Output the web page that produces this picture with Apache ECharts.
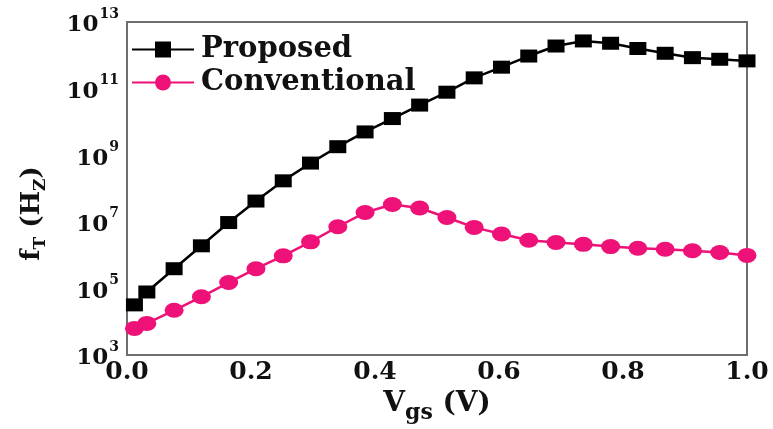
<!DOCTYPE html>
<html>
<head>
<meta charset="utf-8">
<script src="https://cdn.jsdelivr.net/npm/echarts@6/dist/echarts.min.js"></script>
<style>
html,body{margin:0;padding:0;background:#fff;}
#chart{width:773px;height:429px;}
</style>
</head>
<body>
<div id="chart"></div>
<script>
// Gate voltage (V)
var vgs = [0.012, 0.032, 0.076, 0.12, 0.164, 0.208, 0.252, 0.296, 0.34, 0.384, 0.428, 0.472,
           0.516, 0.56, 0.604, 0.648, 0.692, 0.736, 0.78, 0.824, 0.868, 0.912, 0.956, 1.0];
// fT (Hz) - Proposed
var proposed = [3.2e4, 7.8e4, 3.9e5, 1.9e6, 9.5e6, 4.2e7, 1.7e8, 5.8e8, 1.8e9, 5.0e9, 1.26e10, 3.2e10,
                7.8e10, 2.1e11, 4.4e11, 9.5e11, 1.9e12, 2.7e12, 2.3e12, 1.6e12, 1.15e12, 8.5e11, 7.6e11, 6.8e11];
// fT (Hz) - Conventional
var conventional = [6.3e3, 8.9e3, 2.2e4, 5.6e4, 1.5e5, 3.9e5, 9.5e5, 2.5e6, 7.1e6, 1.9e7, 3.3e7, 2.6e7,
                    1.35e7, 6.8e6, 4.3e6, 2.8e6, 2.4e6, 2.1e6, 1.8e6, 1.6e6, 1.5e6, 1.35e6, 1.2e6, 9.8e5];
var seriesNames = ['Proposed', 'Conventional'];
var xTicks = ['0.0', '0.2', '0.4', '0.6', '0.8', '1.0'];
var yTickExponents = ['3', '5', '7', '9', '11', '13'];

var FONT = 'DejaVu Serif';
function pairs(xs, ys) { return xs.map(function (x, i) { return [x, ys[i]]; }); }

var chart = echarts.init(document.getElementById('chart'));
chart.setOption({
  animation: false,
  backgroundColor: '#fff',
  grid: {left: 127, right: 26, top: 22, bottom: 70, show: true, borderColor: '#6e6e6e', borderWidth: 2},
  legend: {
    data: seriesNames,
    orient: 'vertical',
    left: 126, top: 30,
    itemWidth: 62, itemHeight: 20,
    itemGap: 4,
    textStyle: {fontFamily: FONT, fontWeight: 'bold', fontSize: 29, color: '#111', padding: [0, 0, 0, 2]}
  },
  xAxis: {
    type: 'value', min: 0, max: 1, interval: 0.2,
    axisLine: {show: true, lineStyle: {color: '#6e6e6e', width: 2}},
    axisTick: {show: false},
    splitLine: {show: false},
    axisLabel: {
      margin: 5,
      fontFamily: FONT, fontWeight: 'bold', fontSize: 25, color: '#111',
      formatter: function (v) { return xTicks[Math.round(v / 0.2)]; }
    },
    name: '{v|V}{s|gs}{v| (V)}',
    nameLocation: 'middle', nameGap: 35,
    nameTextStyle: {
      rich: {
        v: {fontFamily: FONT, fontWeight: 'bold', fontSize: 28, color: '#111', lineHeight: 32, verticalAlign: 'top'},
        s: {fontFamily: FONT, fontWeight: 'bold', fontSize: 22, color: '#111', lineHeight: 32, verticalAlign: 'top', padding: [12, 0, 0, 0]}
      }
    }
  },
  yAxis: {
    type: 'log', logBase: 10, min: 1e3, max: 1e13, interval: 2,
    axisLine: {show: true, lineStyle: {color: '#6e6e6e', width: 2}},
    axisTick: {show: false},
    splitLine: {show: false},
    axisLabel: {
      margin: 8,
      formatter: function (v) {
        var e = Math.round(Math.log10(v));
        var idx = yTickExponents.indexOf(String(e));
        return idx < 0 ? '' : '{b|10}{s|' + yTickExponents[idx] + '}';
      },
      rich: {
        b: {fontFamily: FONT, fontWeight: 'bold', fontSize: 23, color: '#111', lineHeight: 30, verticalAlign: 'bottom'},
        s: {fontFamily: FONT, fontWeight: 'bold', fontSize: 14, color: '#111', lineHeight: 30, verticalAlign: 'top', padding: [0, 0, 0, 1]}
      }
    },
    name: '{b|f}{s|T}{b| (H}{s|Z}{b|)}',
    nameLocation: 'middle', nameGap: 76, nameRotate: 90,
    nameTextStyle: {
      padding: [0, 50, 0, 0],
      rich: {
        b: {fontFamily: FONT, fontWeight: 'bold', fontSize: 26, color: '#111', lineHeight: 32, verticalAlign: 'top'},
        s: {fontFamily: FONT, fontWeight: 'bold', fontSize: 17, color: '#111', lineHeight: 32, verticalAlign: 'top', padding: [13, 0, 0, 0]}
      }
    }
  },
  series: [
    {
      name: seriesNames[0], type: 'line', data: pairs(vgs, proposed),
      symbol: 'rect', symbolSize: [17, 13],
      itemStyle: {color: '#000'},
      lineStyle: {color: '#000', width: 2.5},
      clip: true
    },
    {
      name: seriesNames[1], type: 'line', data: pairs(vgs, conventional),
      symbol: 'circle', symbolSize: [19, 15],
      itemStyle: {color: '#ee1177'},
      lineStyle: {color: '#ee1177', width: 2.5},
      clip: true
    }
  ]
});
</script>
</body>
</html>
